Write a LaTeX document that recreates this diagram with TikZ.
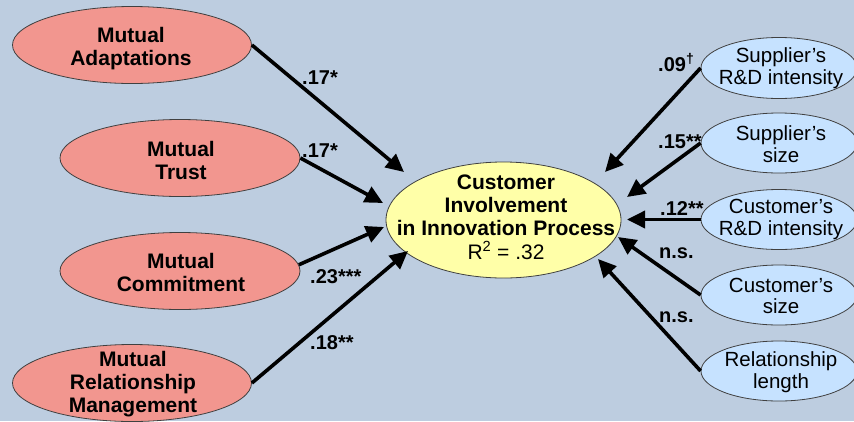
\documentclass[tikz,border=0pt]{standalone}
\usepackage{fontspec}
\setmainfont{Liberation Sans}
\usetikzlibrary{shapes.geometric,arrows.meta}

\definecolor{bgblue}{HTML}{BDCDE0}
\definecolor{redfill}{HTML}{F2968F}
\definecolor{yellowfill}{HTML}{FFFFA8}
\definecolor{bluefill}{HTML}{C6E2FF}

\begin{document}
\begin{tikzpicture}[x=1pt,y=-1pt,
  oval/.style={ellipse, draw=black!75, line width=0.8pt, inner sep=0pt},
  redoval/.style={oval, fill=redfill, minimum width=240pt, minimum height=77pt},
  yeloval/.style={oval, fill=yellowfill, minimum width=235pt, minimum height=116pt},
  bluoval/.style={oval, fill=bluefill, minimum width=156pt, minimum height=60pt},
  boldtxt/.style={font=\fontsize{21}{23}\selectfont\bfseries, align=center, inner sep=0pt},
  plaintxt/.style={font=\fontsize{20.5}{21.5}\selectfont, align=center, inner sep=0pt},
  coef/.style={font=\fontsize{20}{22}\selectfont\bfseries, anchor=base west, inner sep=0pt},
  arr/.style={line width=3.6pt, -{Triangle[length=18pt,width=17pt]}}
]
  % background and canvas
  \fill[bgblue] (0,0) rectangle (854,421);
  \useasboundingbox (0,0) rectangle (854,421);

  % relational constructs (left)
  \node[redoval, minimum width=239pt] (adapt)  at (132,45)  {};
  \node[redoval] (trust)  at (180,158) {};
  \node[redoval] (commit) at (180,271) {};
  \node[redoval, minimum width=239pt] (relmg)  at (132,383) {};
  \node[boldtxt] (adapt-t)  at (131,49)  {Mutual\\Adaptations};
  \node[boldtxt] (trust-t)  at (181,160) {Mutual\\Trust};
  \node[boldtxt] (commit-t) at (181,272) {Mutual\\Commitment};
  \node[boldtxt] (relmg-t)  at (133,384) {Mutual\\Relationship\\Management};

  % dependent construct
  \node[yeloval] (cii) at (503.5,220) {};
  \node[boldtxt] (cii-t) at (506,217)
    {Customer\\Involvement\\in Innovation Process\\[1pt]\mdseries R\textsuperscript{2} = .32};

  % control variables (right)
  \node[bluoval, minimum height=61pt] (srd) at (779,68)    {};
  \node[bluoval] (ssz) at (779,143)   {};
  \node[bluoval] (crd) at (779,219.5) {};
  \node[bluoval] (csz) at (779,295)   {};
  \node[bluoval] (rln) at (779,371)   {};
  \node[plaintxt] (srd-t) at (781,68)    {Supplier’s\\R\&D intensity};
  \node[plaintxt] (ssz-t) at (781,144)   {Supplier’s\\size};
  \node[plaintxt] (crd-t) at (781,219.5) {Customer’s\\R\&D intensity};
  \node[plaintxt] (csz-t) at (781,296)   {Customer’s\\size};
  \node[plaintxt] (rln-t) at (781,372)   {Relationship\\length};

  % arrow end points near the central ellipse
  \coordinate (inA) at (404,172);
  \coordinate (inT) at (383,203);
  \coordinate (inC) at (384,227);
  \coordinate (inR) at (408,251);
  \coordinate (in1) at (605,172);
  \coordinate (in2) at (627,197);
  \coordinate (in3) at (627,219.5);
  \coordinate (in4) at (618,237);
  \coordinate (in5) at (598,259);

  % paths
  \draw[arr] (adapt.east)  -- (inA);
  \draw[arr] (trust.east)  -- (inT);
  \draw[arr] (commit.3)    -- (inC);
  \draw[arr] (relmg.east)  -- (inR);
  \draw[arr] (srd.west) -- (in1);
  \draw[arr] (ssz.west) -- (in2);
  \draw[arr] (crd.west) -- (in3);
  \draw[arr] (csz.west) -- (in4);
  \draw[arr] (rln.west) -- (in5);

  % path coefficients
  \node[coef] (c-adapt)  at (302,84)  {.17*};
  \node[coef] (c-trust)  at (302,157) {.17*};
  \node[coef] (c-commit) at (310,283) {.23***};
  \node[coef] (c-relmg)  at (310,349) {.18**};
  \node[coef] (c-srd) at (658,71)  {.09\textsuperscript{\bfseries †}};
  \node[coef] (c-ssz) at (658,148) {.15**};
  \node[coef] (c-crd) at (660,215) {.12**};
  \node[coef] (c-csz) at (659,258) {n.s.};
  \node[coef] (c-rln) at (659,322) {n.s.};
\end{tikzpicture}
\end{document}
